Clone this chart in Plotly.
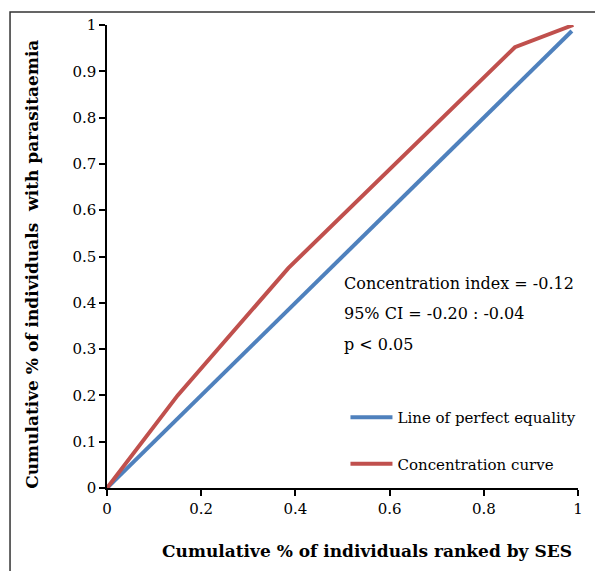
import plotly.graph_objects as go

# Data
equality_x = [0, 0.987]
equality_y = [0, 0.987]
curve_x = [0, 0.15, 0.385, 0.632, 0.866, 0.99]
curve_y = [0, 0.20, 0.475, 0.72, 0.952, 1.0]
x_ticks = [0, 0.2, 0.4, 0.6, 0.8, 1]
y_ticks = [0, 0.1, 0.2, 0.3, 0.4, 0.5, 0.6, 0.7, 0.8, 0.9, 1]
stats_lines = ["Concentration index = -0.12", "95% CI = -0.20 : -0.04", "p < 0.05"]
x_title = "Cumulative % of individuals ranked by SES"
y_title = "Cumulative % of individuals  with parasitaemia"

FONT = "DejaVu Serif"
BLUE = "#4F81BD"
RED = "#C0504D"

fig = go.Figure()
fig.add_trace(go.Scatter(x=equality_x, y=equality_y, mode="lines",
                         line=dict(color=BLUE, width=4),
                         name="Line of perfect equality", legendgroup="a",
                         cliponaxis=False))
fig.add_trace(go.Scatter(x=curve_x, y=curve_y, mode="lines",
                         line=dict(color=RED, width=4),
                         name="Concentration curve", legendgroup="b",
                         cliponaxis=False))

W, H = 595, 571
ml, mr, mt, mb = 107, 12, 25, 83
pw, ph = W - ml - mr, H - mt - mb

def px_to_paper_x(px):
    return (px - ml) / pw

def px_to_paper_y(py):
    return (H - mb - py) / ph

annots = []
for txt, ypx in zip(stats_lines, [283, 313, 344]):
    annots.append(dict(text=txt, x=px_to_paper_x(344), y=px_to_paper_y(ypx),
                       xref="paper", yref="paper", xanchor="left", yanchor="middle",
                       showarrow=False, font=dict(family=FONT, size=16, color="black")))
annots.append(dict(text="<b>" + x_title + "</b>", x=px_to_paper_x(370), y=px_to_paper_y(551),
                   xref="paper", yref="paper", xanchor="center", yanchor="middle",
                   showarrow=False, font=dict(family=FONT, size=17, color="black")))
annots.append(dict(text="<b>" + y_title + "</b>", x=px_to_paper_x(31), y=px_to_paper_y(264),
                   xref="paper", yref="paper", xanchor="center", yanchor="middle", textangle=-90,
                   showarrow=False, font=dict(family=FONT, size=17, color="black")))

fig.update_layout(
    width=W, height=H,
    margin=dict(l=ml, r=mr, t=mt, b=mb),
    paper_bgcolor="white", plot_bgcolor="white",
    font=dict(family=FONT, size=15, color="black"),
    showlegend=True,
    legend=dict(x=px_to_paper_x(348), y=px_to_paper_y(401), xanchor="left", yanchor="top",
                bgcolor="rgba(0,0,0,0)", font=dict(family=FONT, size=15),
                tracegroupgap=24, itemwidth=42),
    annotations=annots,
    shapes=[dict(type="rect", xref="paper", yref="paper",
                 x0=px_to_paper_x(9), y0=px_to_paper_y(12),
                 x1=px_to_paper_x(620), y1=px_to_paper_y(600),
                 line=dict(color="#333333", width=1.5), layer="below")],
    xaxis=dict(range=[0, 1], tickvals=x_ticks, ticktext=[str(v) if v not in (0, 1) else str(int(v)) for v in x_ticks],
               showgrid=False, zeroline=False, showline=True, linecolor="black", linewidth=1.5,
               ticks="outside", ticklen=6, tickwidth=1.5, tickcolor="black",
               tickfont=dict(family=FONT, size=15)),
    yaxis=dict(range=[0, 1], tickvals=y_ticks, ticktext=[str(v) if v not in (0, 1) else str(int(v)) for v in y_ticks],
               showgrid=False, zeroline=False, showline=True, linecolor="black", linewidth=1.5,
               ticks="outside", ticklen=6, tickwidth=1.5, tickcolor="black",
               tickfont=dict(family=FONT, size=15)),
)

fig.write_html("out.html")
